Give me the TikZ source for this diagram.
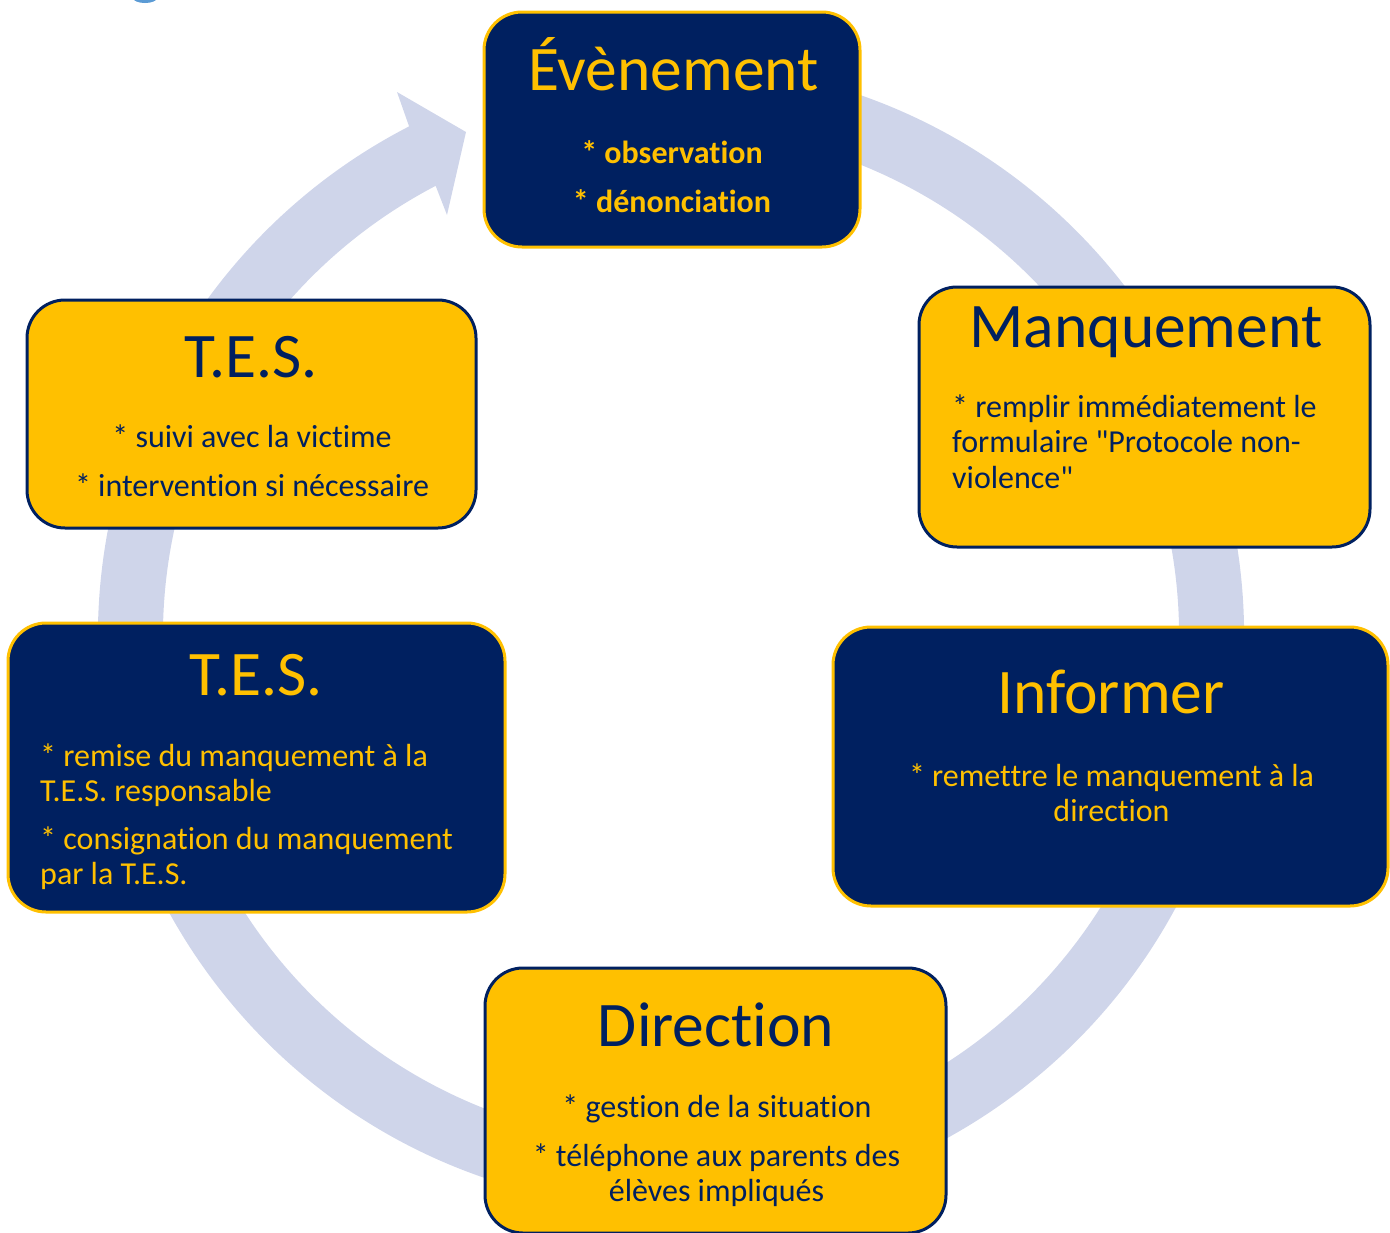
\documentclass[tikz,border=0pt]{standalone}
\usepackage{fontspec}
\setmainfont{Carlito}[Ligatures={TeXOff,NoCommon}]
\usetikzlibrary{calc}
\definecolor{navy}{HTML}{002060}
\definecolor{gold}{HTML}{FFC000}
\definecolor{ringc}{HTML}{CFD5EA}
\definecolor{blob}{HTML}{5B9BD5}
\tikzset{
  boxn/.style={draw=gold, fill=navy, line width=3pt, rounded corners=38pt, inner sep=0pt},
  boxg/.style={draw=navy, fill=gold, line width=3pt, rounded corners=38pt, inner sep=0pt},
  ttl/.style={inner sep=0pt, anchor=base, font=\fontsize{63.5}{70}\selectfont},
  bdy/.style={inner sep=0pt, anchor=base, font=\fontsize{32}{35}\selectfont},
  bdyl/.style={bdy, anchor=base west},
  onN/.style={text=gold},
  onG/.style={text=navy}
}
\begin{document}
\begin{tikzpicture}[x=1pt,y=-1pt]
\useasboundingbox (0,0) rectangle (1390,1232);
\clip (0,0) rectangle (1390,1232);
% small fragment at top
\fill[blob] (145,-2) ellipse [x radius=12, y radius=5];
% ring with arrow
\coordinate (c) at (671,636);
\coordinate (tip) at (466,132);
\coordinate (barbA) at (397,92);
\coordinate (barbB) at (447,215);
\fill[ringc] ($(c)+(280:573)$) arc[start angle=280, end angle=602.8, radius=573]
  -- (barbA) -- (tip) -- (barbB)
  -- ($(c)+(602.4:508)$) arc[start angle=602.4, end angle=280, radius=508] -- cycle;
% boxes
\node[boxn, minimum width=376, minimum height=235] (ev) at (672,129.5) {};
\node[boxg, minimum width=451, minimum height=260] (ma) at (1144.5,417) {};
\node[boxn, minimum width=555, minimum height=279] (in) at (1110.5,766.5) {};
\node[boxg, minimum width=461, minimum height=265] (di) at (715.5,1100.5) {};
\node[boxn, minimum width=497, minimum height=289] (tn) at (256.5,767.5) {};
\node[boxg, minimum width=449, minimum height=228] (tg) at (251.5,414) {};
% Evenement
\node[ttl, onN] (ev-t) at (673.5,90) {Évènement};
\node[bdy, onN, font=\fontsize{32}{35}\selectfont\bfseries] (ev-1) at (672,163) {* observation};
\node[bdy, onN, font=\fontsize{32}{35}\selectfont\bfseries] (ev-2) at (672,212) {* dénonciation};
% Manquement
\node[ttl, onG] (ma-t) at (1146,347) {Manquement};
\node[bdyl, onG] (ma-1) at (952,417) {* remplir immédiatement le};
\node[bdyl, onG] (ma-2) at (952,452.5) {formulaire "Protocole non-};
\node[bdyl, onG] (ma-3) at (952,488) {violence"};
% Informer
\node[ttl, onN] (in-t) at (1111,713) {Informer};
\node[bdy, onN] (in-1) at (1111.5,786) {* remettre le manquement à la};
\node[bdy, onN] (in-2) at (1111.5,821) {direction};
% Direction
\node[ttl, onG] (di-t) at (716,1046) {Direction};
\node[bdy, onG] (di-1) at (717,1117) {* gestion de la situation};
\node[bdy, onG] (di-2) at (716.5,1166) {* téléphone aux parents des};
\node[bdy, onG] (di-3) at (716.5,1201) {élèves impliqués};
% TES navy
\node[ttl, onN] (tn-t) at (256,695) {T.E.S.};
\node[bdyl, onN] (tn-1) at (40,766) {* remise du manquement à la};
\node[bdyl, onN] (tn-2) at (40,801) {T.E.S. responsable};
\node[bdyl, onN] (tn-3) at (40,849) {* consignation du manquement};
\node[bdyl, onN] (tn-4) at (40,884) {par la T.E.S.};
% TES gold
\node[ttl, onG] (tg-t) at (251,377) {T.E.S.};
\node[bdy, onG] (tg-1) at (252,447) {* suivi avec la victime};
\node[bdy, onG] (tg-2) at (252,496) {* intervention si nécessaire};
\end{tikzpicture}
\end{document}
